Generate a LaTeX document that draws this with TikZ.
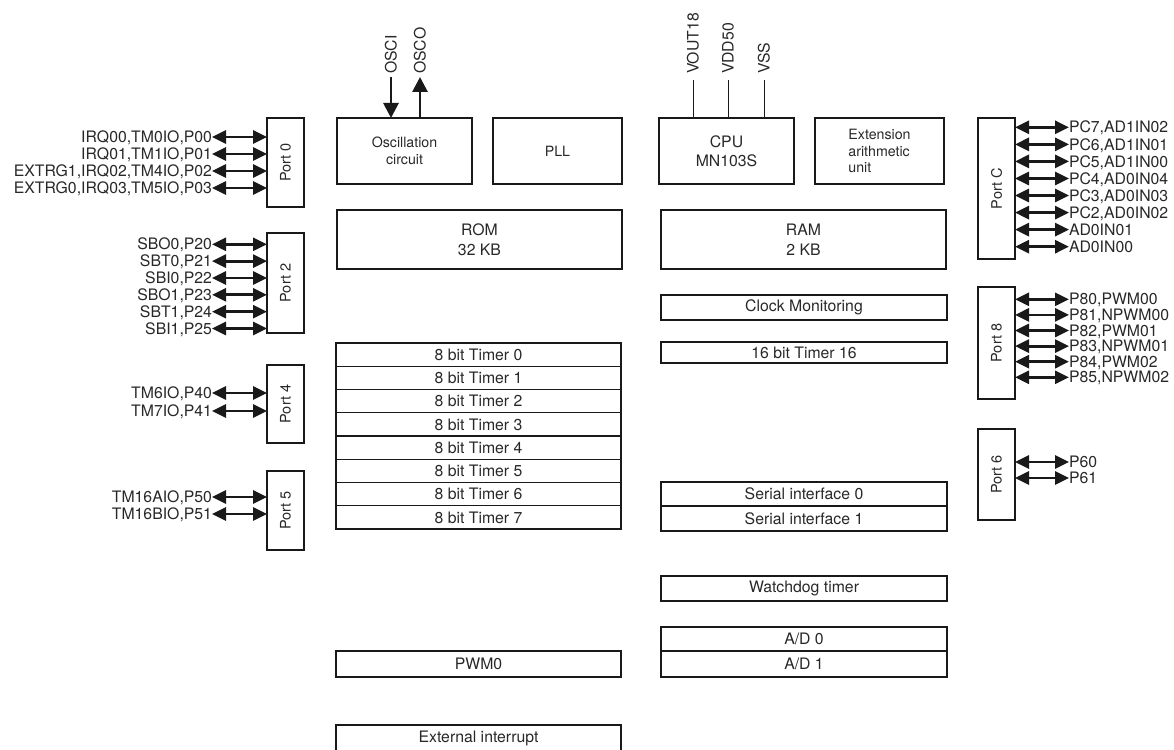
\documentclass[tikz,border=0pt]{standalone}
\usepackage{fontspec}
\setmainfont{TeX Gyre Heros}
\usetikzlibrary{arrows.meta}
\definecolor{ink}{RGB}{25,25,25}
\definecolor{txt}{RGB}{40,40,40}
\begin{document}
\begin{tikzpicture}[x=1pt,y=-1pt,
  box/.style={draw=ink, line width=1.4pt, inner sep=0pt, outer sep=0pt, text=txt,
              font=\fontsize{15.8}{19.5}\selectfont, align=center},
  smallbox/.style={box, font=\fontsize{14.2}{16.8}\selectfont},
  portbox/.style={box, minimum width=37pt, font=\fontsize{14.5}{16.8}\selectfont},
  sig/.style={inner sep=0pt, outer sep=0pt, text=txt, font=\fontsize{15.8}{18}\selectfont,
              text height=11.2pt, text depth=0pt},
  bi/.style={draw=ink, line width=2.8pt, {Triangle[length=14pt,width=13pt]}-{Triangle[length=14pt,width=13pt]}},
  uni/.style={draw=ink, line width=2.8pt, -{Triangle[length=15pt,width=15pt]}},
  pin/.style={draw=ink, line width=1pt},
]
\useasboundingbox (0,0) rectangle (1174,749);

% ---- top blocks
\node[smallbox, minimum width=135pt, minimum height=66pt] (osc) at (404.5,151) {Oscillation\\circuit};
\node[smallbox, minimum width=129pt, minimum height=66pt] (pll) at (557.5,151) {PLL};
\node[box, minimum width=135pt, minimum height=66pt] (cpu) at (726.5,151) {CPU\\MN103S};
\node[smallbox, minimum width=129pt, minimum height=66pt, align=left] (ext) at (879.5,151) {Extension\\arithmetic\\unit};
\node[box, minimum width=285pt, minimum height=59pt] (rom) at (479.5,239.5) {ROM\\32 KB};
\node[box, minimum width=285pt, minimum height=59pt] (ram) at (803.5,239.5) {RAM\\2 KB};

% ---- right column
\node[box, minimum width=286pt, minimum height=25pt] (clk) at (804,307.5) {Clock Monitoring};
\node[box, minimum width=286pt, minimum height=21pt] (t16) at (804,352.5) {16 bit Timer 16};
\node[box, minimum width=286pt, minimum height=24pt] (sif0) at (804,494) {Serial interface 0};
\node[box, minimum width=286pt, minimum height=25pt] (sif1) at (804,518.5) {Serial interface 1};
\node[box, minimum width=286pt, minimum height=25pt] (wdt) at (804,588.5) {Watchdog timer};
\node[box, minimum width=286pt, minimum height=24pt] (ad0) at (804,639) {A/D 0};
\node[box, minimum width=286pt, minimum height=26pt] (ad1) at (804,664) {A/D 1};

% ---- left column
\foreach \i in {0,...,7}
  \node[box, minimum width=285pt, minimum height=23.25pt] (t\i) at (478.5,{354.625+23.25*\i}) {8 bit Timer \i};
\node[box, minimum width=285pt, minimum height=26pt] (pwm) at (478.5,664) {PWM0};
\node[box, minimum width=285pt, minimum height=26pt] (exti) at (478.5,738) {External interrupt};

% ---- oscillator pins
\node[sig, rotate=90, anchor=west] (osci) at (391,74) {OSCI};
\node[sig, rotate=90, anchor=west] (osco) at (420,74) {OSCO};
\draw[uni] ([yshift=-3pt]osci.west) -- (osci.west |- osc.north);
\draw[uni] (osco.west |- osc.north) -- ([yshift=-3pt]osco.west);

% ---- power pins
\node[sig, rotate=90, anchor=west] (vout) at (693,74) {VOUT18};
\node[sig, rotate=90, anchor=west] (vdd) at (728,74) {VDD50};
\node[sig, rotate=90, anchor=west] (vss) at (764,74) {VSS};
\draw[pin] ([yshift=-6pt]vout.west) -- (vout.west |- cpu.north);
\draw[pin] ([yshift=-6pt]vdd.west) -- (vdd.west |- cpu.north);
\draw[pin] ([yshift=-6pt]vss.west) -- (vss.west |- cpu.north);

% ---- left ports
\node[portbox, minimum height=89pt] (p0) at (285.5,162.5) {\rotatebox{90}{Port 0}};
\node[portbox, minimum height=100pt] (p2) at (285.5,283) {\rotatebox{90}{Port 2}};
\node[portbox, minimum height=78pt] (p4) at (285.5,404) {\rotatebox{90}{Port 4}};
\node[portbox, minimum height=79pt] (p5) at (285.5,510.5) {\rotatebox{90}{Port 5}};

\foreach \y/\t [count=\k] in {137/{IRQ00,TM0IO,P00},154/{IRQ01,TM1IO,P01},171/{EXTRG1,IRQ02,TM4IO,P02},188/{EXTRG0,IRQ03,TM5IO,P03}}{
  \node[sig, anchor=east] (a\k) at (212,\y) {\t};
  \draw[bi] (a\k.east) -- (a\k.east -| p0.west);
}
\foreach \y/\t [count=\k] in {244.3/{SBO0,P20},261.1/{SBT0,P21},278/{SBI0,P22},294.8/{SBO1,P23},311.7/{SBT1,P24},328.5/{SBI1,P25}}{
  \node[sig, anchor=east] (b\k) at (212,\y) {\t};
  \draw[bi] (b\k.east) -- (b\k.east -| p2.west);
}
\foreach \y/\t [count=\k] in {393/{TM6IO,P40},411/{TM7IO,P41}}{
  \node[sig, anchor=east] (c\k) at (212,\y) {\t};
  \draw[bi] (c\k.east) -- (c\k.east -| p4.west);
}
\foreach \y/\t [count=\k] in {497/{TM16AIO,P50},514/{TM16BIO,P51}}{
  \node[sig, anchor=east] (d\k) at (212,\y) {\t};
  \draw[bi] (d\k.east) -- (d\k.east -| p5.west);
}

% ---- right ports
\node[portbox, minimum height=141pt] (pc) at (996.5,188.5) {\rotatebox{90}{Port C}};
\node[portbox, minimum height=112pt] (p8) at (996.5,343) {\rotatebox{90}{Port 8}};
\node[portbox, minimum height=91pt] (p6) at (996.5,474.5) {\rotatebox{90}{Port 6}};

\foreach \y/\t [count=\k] in {127.3/{PC7,AD1IN02},144.4/{PC6,AD1IN01},161.4/{PC5,AD1IN00},178.5/{PC4,AD0IN04},195.5/{PC3,AD0IN03},212.6/{PC2,AD0IN02},229.6/{AD0IN01},246.7/{AD0IN00}}{
  \node[sig, anchor=west] (e\k) at (1069,\y) {\t};
  \draw[bi] (e\k.west -| pc.east) -- (e\k.west);
}
\foreach \y/\t [count=\k] in {299.3/{P80,PWM00},314.9/{P81,NPWM00},330.5/{P82,PWM01},346.1/{P83,NPWM01},361.7/{P84,PWM02},377.3/{P85,NPWM02}}{
  \node[sig, anchor=west] (f\k) at (1069,\y) {\t};
  \draw[bi] (f\k.west -| p8.east) -- (f\k.west);
}
\foreach \y/\t [count=\k] in {462/{P60},478/{P61}}{
  \node[sig, anchor=west] (g\k) at (1069,\y) {\t};
  \draw[bi] (g\k.west -| p6.east) -- (g\k.west);
}
\end{tikzpicture}
\end{document}
